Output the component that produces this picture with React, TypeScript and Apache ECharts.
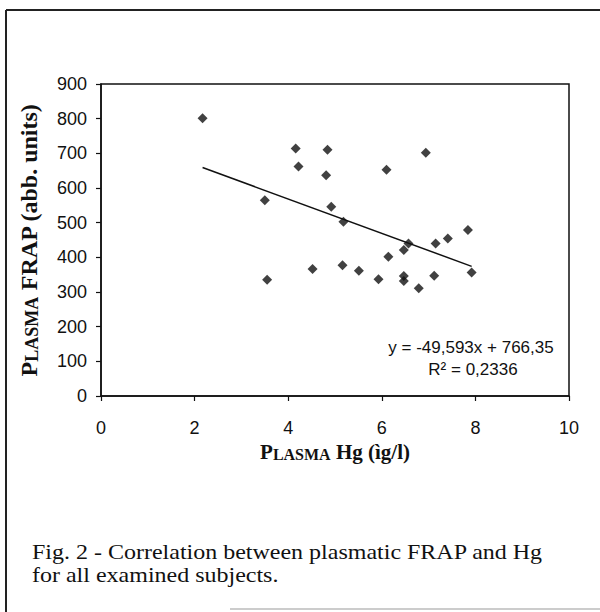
import React, { useEffect, useRef } from "react";
import * as echarts from "echarts";

// Plasma Hg (x) and Plasma FRAP (y) values
const hgValues = [
  2.17, 3.5, 3.55, 4.16, 4.22, 4.52, 4.81, 4.84, 4.92, 5.16, 5.18, 5.51, 5.93,
  6.1, 6.14, 6.47, 6.47, 6.47, 6.57, 6.79, 6.94, 7.12, 7.15, 7.41, 7.84, 7.92,
];
const frapValues = [
  801, 565, 335, 714, 662, 366, 637, 710, 546, 377, 503, 361, 337,
  653, 402, 421, 346, 332, 440, 311, 702, 347, 440, 454, 479, 356,
];
// linear trend line end points (y = -49,593x + 766,35 over the data range)
const trendX = [2.17, 7.92];
const trendY = [659, 374];

const xTicks = { min: 0, max: 10, interval: 2 };
const yTicks = { min: 0, max: 900, interval: 100 };

const equationText = "y = -49,593x + 766,35";
const r2Text = "R² = 0,2336";
const captionLines = [
  "Fig. 2 - Correlation between plasmatic FRAP and Hg",
  "for all examined subjects.",
];

export default function App() {
  const ref = useRef<HTMLDivElement>(null);
  useEffect(() => {
    if (!ref.current) return;
    const chart = echarts.init(ref.current, undefined, { renderer: "svg" });
    const points = hgValues.map((x, i) => [x, frapValues[i]]);
    const trend = trendX.map((x, i) => [x, trendY[i]]);
    const serif = "'Liberation Serif', 'Times New Roman', serif";
    const sans = "'Liberation Sans', Arial, sans-serif";
    chart.setOption({
      animation: false,
      backgroundColor: "#ffffff",
      grid: {
        left: 101,
        top: 84,
        width: 468,
        height: 312,
        show: true,
        borderColor: "#111",
        borderWidth: 1.5,
        backgroundColor: "transparent",
      },
      xAxis: {
        type: "value",
        min: xTicks.min,
        max: xTicks.max,
        interval: xTicks.interval,
        splitLine: { show: false },
        axisLine: { show: true, onZero: false, lineStyle: { color: "#111", width: 1.5 } },
        axisTick: { show: true, inside: false, length: 5, lineStyle: { color: "#111", width: 1.2 } },
        axisLabel: { color: "#111", fontFamily: sans, fontSize: 18, margin: 23 },
        name: "{b|P}{s|LASMA}{b| Hg (ìg/l)}",
        nameLocation: "middle",
        nameGap: 36,
        nameTextStyle: {
          rich: {
            b: { fontFamily: serif, fontWeight: "bold", fontSize: 21, color: "#111", verticalAlign: "bottom" },
            s: { fontFamily: serif, fontWeight: "bold", fontSize: 16, color: "#111", verticalAlign: "bottom" },
          },
        },
      },
      yAxis: {
        type: "value",
        min: yTicks.min,
        max: yTicks.max,
        interval: yTicks.interval,
        splitLine: { show: false },
        axisLine: { show: true, onZero: false, lineStyle: { color: "#111", width: 1.5 } },
        axisTick: { show: true, inside: false, length: 5, lineStyle: { color: "#111", width: 1.2 } },
        axisLabel: { color: "#111", fontFamily: sans, fontSize: 18, margin: 14 },
        name: "{b|P}{s|LASMA}{b| FRAP (abb. units)}",
        nameLocation: "middle",
        nameRotate: 90,
        nameGap: 60,
        nameTextStyle: {
          rich: {
            b: { fontFamily: serif, fontWeight: "bold", fontSize: 24, color: "#111", verticalAlign: "bottom" },
            s: { fontFamily: serif, fontWeight: "bold", fontSize: 18, color: "#111", verticalAlign: "bottom" },
          },
        },
      },
      series: [
        {
          type: "line",
          data: trend,
          showSymbol: false,
          symbol: "none",
          lineStyle: { color: "#111", width: 1.5 },
          z: 2,
        },
        {
          type: "scatter",
          data: points,
          symbol: "diamond",
          symbolSize: 10,
          itemStyle: { color: "#111" },
          z: 3,
        },
      ],
      graphic: [
        { type: "line", shape: { x1: 6, y1: 10, x2: 6, y2: 612 }, style: { stroke: "#222", lineWidth: 2 } },
        { type: "line", shape: { x1: 6, y1: 10, x2: 600, y2: 10 }, style: { stroke: "#222", lineWidth: 2 } },
        { type: "line", shape: { x1: 230, y1: 609, x2: 600, y2: 609 }, style: { stroke: "#bbb", lineWidth: 1.5 } },
        {
          type: "text",
          x: 471,
          y: 347,
          style: { text: equationText, font: `17px ${sans}`, fill: "#111", align: "center", verticalAlign: "middle" },
        },
        {
          type: "text",
          x: 473,
          y: 369,
          style: { text: r2Text, font: `17px ${sans}`, fill: "#111", align: "center", verticalAlign: "middle" },
        },
        {
          type: "text",
          x: 32,
          y: 552,
          scaleX: 1.2,
          style: { text: captionLines[0], font: `20px ${serif}`, fill: "#111", align: "left", verticalAlign: "middle" },
        },
        {
          type: "text",
          x: 32,
          y: 575,
          scaleX: 1.2,
          style: { text: captionLines[1], font: `20px ${serif}`, fill: "#111", align: "left", verticalAlign: "middle" },
        },
      ],
    });
    return () => chart.dispose();
  }, []);
  return (
    <div
      ref={ref}
      style={{ position: "fixed", left: 0, top: 0, width: 600, height: 612, background: "#fff" }}
    />
  );
}
